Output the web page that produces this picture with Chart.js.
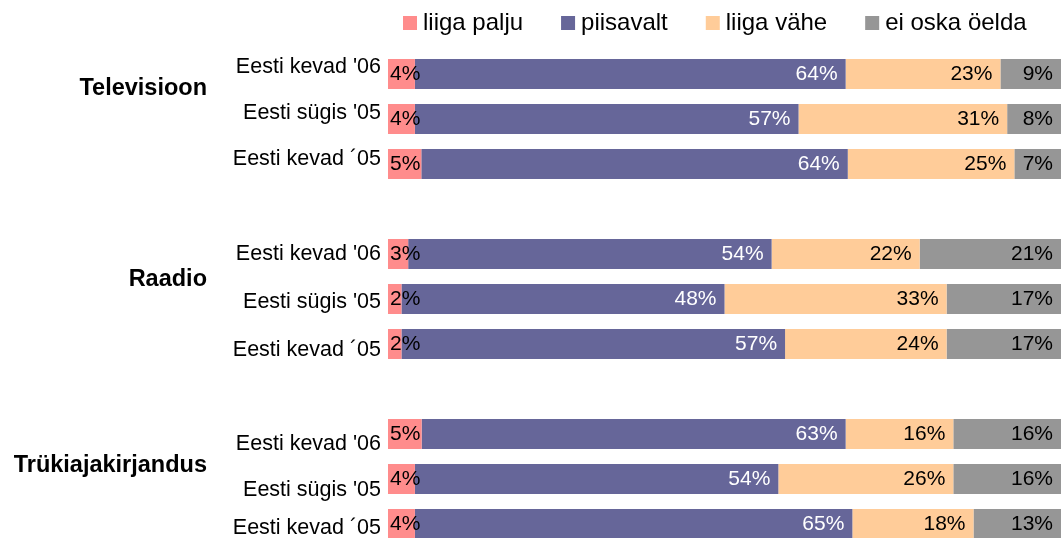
<!DOCTYPE html>
<html>
<head>
<meta charset="utf-8">
<script src="https://cdn.jsdelivr.net/npm/chart.js@4/dist/chart.umd.min.js"></script>
<style>
  html, body { margin: 0; padding: 0; background: #fff; overflow: hidden; width: 1061px; height: 538px; }
  #wrap { width: 1061px; height: 547px; }
</style>
</head>
<body>
<div id="wrap"><canvas id="myChart" width="1061" height="547"></canvas></div>
<script>
// survey answers, percent per row (rows go top to bottom)
const groups = ['Televisioon', 'Raadio', 'Trükiajakirjandus'];
const periods = ["Eesti kevad '06", "Eesti sügis '05", "Eesti kevad ´05"];
const seriesNames = ['liiga palju', 'piisavalt', 'liiga vähe', 'ei oska öelda'];
const seriesColors = ['#FF8C8C', '#666699', '#FFCC99', '#969696'];

const liigaPalju = [4, 4, 5, 3, 2, 2, 5, 4, 4];
const piisavalt  = [64, 57, 64, 54, 48, 57, 63, 54, 65];
const liigaVahe  = [23, 31, 25, 22, 33, 24, 16, 26, 18];
const eiOska     = [9, 8, 7, 21, 17, 17, 16, 16, 13];

const series = [liigaPalju, piisavalt, liigaVahe, eiOska];

// rows with an empty slot between the groups
let labels = [];
let rowIndex = [];   // slot -> data row (or null for gap)
groups.forEach((g, gi) => {
    periods.forEach((p, pi) => {
        labels.push(p);
        rowIndex.push(gi * periods.length + pi);
    });
    if (gi < groups.length - 1) {
        labels.push('');
        rowIndex.push(null);
    }
});

// 100% stacked: scale each row by its own total
const rowSum = liigaPalju.map((v, i) => series.reduce((s, arr) => s + arr[i], 0));

const datasets = series.map((arr, si) => ({
    label: seriesNames[si],
    backgroundColor: seriesColors[si],
    borderWidth: 0,
    barPercentage: 30 / 45,
    categoryPercentage: 1,
    data: rowIndex.map(r => r === null ? null : arr[r] / rowSum[r] * 100),
    rawValues: rowIndex.map(r => r === null ? null : arr[r])
}));

const FONT = '"Liberation Sans", Arial, Helvetica, sans-serif';

// nudges to follow the odd label placement of the original
const periodNudge = [-7, -6, -4.5, 0, 3, 6, 10, 11, 4.5];
const groupNudge = [-8, 3, 9];

const valueLabels = {
    id: 'valueLabels',
    afterDatasetsDraw(chart) {
        const ctx = chart.ctx;
        ctx.save();
        ctx.font = '21px ' + FONT;
        ctx.textAlign = 'left';
        ctx.textBaseline = 'middle';
        chart.data.datasets.forEach((ds, di) => {
            const meta = chart.getDatasetMeta(di);
            meta.data.forEach((bar, i) => {
                const raw = ds.rawValues[i];
                if (raw === null || raw === undefined) return;
                const text = raw + '%';
                const w = ctx.measureText(text).width;
                const start = Math.min(bar.base, bar.x);
                const end = Math.max(bar.base, bar.x);
                const left = Math.max(start + 2, end - 8 - w);
                ctx.fillStyle = di === 1 ? '#ffffff' : '#000000';
                ctx.fillText(text, left, bar.y);
            });
        });
        ctx.restore();
    }
};

const axisLabels = {
    id: 'axisLabels',
    afterDraw(chart) {
        const ctx = chart.ctx;
        const yScale = chart.scales.y;
        ctx.save();
        ctx.fillStyle = '#000';
        ctx.textAlign = 'right';
        ctx.textBaseline = 'middle';
        ctx.font = '21.5px ' + FONT;
        let k = 0;
        rowIndex.forEach((r, slot) => {
            if (r === null) return;
            ctx.fillText(labels[slot], 381, yScale.getPixelForValue(slot) + periodNudge[k]);
            k++;
        });
        ctx.font = 'bold 23.5px ' + FONT;
        groups.forEach((g, gi) => {
            const slot = gi * (periods.length + 1) + 0.5;
            ctx.fillText(g, 207, yScale.getPixelForValue(slot) + groupNudge[gi]);
        });
        ctx.restore();
    }
};

const topLegend = {
    id: 'topLegend',
    afterDraw(chart) {
        const ctx = chart.ctx;
        ctx.save();
        ctx.font = '24px ' + FONT;
        ctx.textAlign = 'left';
        ctx.textBaseline = 'middle';
        let x = 403;
        const y = 23;
        chart.data.datasets.forEach(ds => {
            ctx.fillStyle = ds.backgroundColor;
            ctx.fillRect(x, y - 7, 14, 14);
            ctx.fillStyle = '#000';
            ctx.fillText(ds.label, x + 20, y);
            x += 20 + ctx.measureText(ds.label).width + 38;
        });
        ctx.restore();
    }
};

let chart = null;

function drawChart() {
    try {
        const ctx = document.getElementById('myChart').getContext('2d');
        if (chart) chart.destroy();
        chart = new Chart(ctx, {
            type: 'bar',
            data: { labels: labels, datasets: datasets },
            options: {
                indexAxis: 'y',
                responsive: false,
                animation: false,
                devicePixelRatio: 1,
                layout: { padding: { left: 388, right: 0, top: 51.5, bottom: 0.5 } },
                scales: {
                    x: { stacked: true, min: 0, max: 100, display: false },
                    y: { stacked: true, display: false }
                },
                plugins: {
                    legend: { display: false },
                    tooltip: { enabled: false }
                }
            },
            plugins: [valueLabels, axisLabels, topLegend]
        });
    } catch (error) {
        console.error('Error in drawChart:', error);
    }
}

drawChart();
</script>
</body>
</html>
